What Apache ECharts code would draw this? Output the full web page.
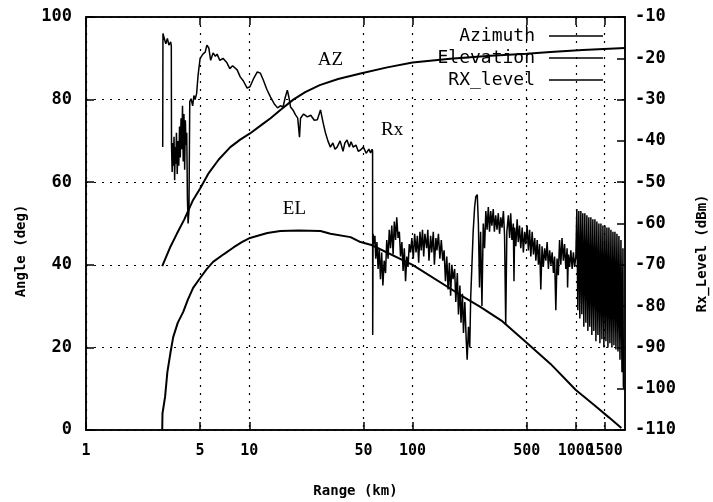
<!DOCTYPE html>
<html>
<head>
<meta charset="utf-8">
<script src="https://cdn.jsdelivr.net/npm/echarts/dist/echarts.min.js"></script>
<style>
  html, body { margin: 0; padding: 0; background: #fff; }
  #chart { width: 713px; height: 502px; }
</style>
</head>
<body>
<div id="chart"></div>
<script>
// range (km) ticks of the log axis
const rangeTicks = [1, 5, 10, 50, 100, 500, 1000, 1500];
const rangeLabels = [1, 5, 10, 50, 100, 500, 1000];
const rangeLabelsExtra = [1500];

// [range km, angle deg]
const azimuth = [
  [2.93, 39.7], [3.1, 42], [3.3, 44.5], [3.6, 47.5], [4.0, 51], [4.5, 55.5], [5.0, 58.5],
  [5.6, 62], [6.5, 65.5], [7.65, 68.5], [8.8, 70.3], [10.1, 71.8], [12, 74], [13.5, 75.5],
  [15.5, 77.5], [18.6, 80], [22, 81.8], [27, 83.5], [35, 85], [48, 86.3], [70, 87.8],
  [100, 89], [170, 89.9], [300, 90.6], [500, 91.1], [700, 91.5], [1100, 92], [2000, 92.5]
];

const elevation = [
  [2.93, 0], [2.94, 4], [3.05, 8], [3.15, 14], [3.3, 19], [3.42, 22.5], [3.65, 26],
  [3.94, 28.6], [4.2, 31.5], [4.53, 34.4], [5.0, 36.8], [5.5, 39], [6.0, 40.7], [7.0, 42.6],
  [8.0, 44.2], [9.0, 45.5], [10.1, 46.5], [12.9, 47.7], [15.5, 48.2], [20, 48.3], [27.3, 48.2],
  [31.4, 47.5], [41.7, 46.7], [48, 45.5], [56, 44.8], [100, 40], [200, 32.5], [260, 29.8],
  [350, 26.5], [500, 21.1], [700, 16], [1000, 9.7], [1300, 6], [1600, 3], [1900, 0.5]
];

// [range km, level dBm]
const rxLevel = [
  [2.95, -41.5], [2.96, -14.0], [3.02, -13.9], [3.08, -16.5], [3.15, -15.2], [3.22, -16.8],
  [3.30, -16.0], [3.33, -17.0], [3.34, -41.0], [3.37, -47.5], [3.40, -40.5], [3.43, -46.0],
  [3.46, -39.0], [3.49, -49.5], [3.52, -41.5], [3.55, -45.5], [3.58, -38.0], [3.62, -48.0],
  [3.66, -40.0], [3.70, -46.0], [3.74, -36.5], [3.78, -44.0], [3.82, -34.5], [3.86, -42.0],
  [3.90, -31.5], [3.94, -45.0], [3.98, -33.5], [4.02, -47.0], [4.06, -35.0], [4.10, -41.0],
  [4.14, -38.0], [4.18, -54.0], [4.22, -60.0], [4.27, -57.0], [4.32, -30.5], [4.40, -29.8],
  [4.50, -31.5], [4.58, -29.0], [4.66, -30.0], [4.76, -28.5], [4.86, -24.0], [5.0, -20.0],
  [5.2, -19.0], [5.37, -18.5], [5.5, -16.8], [5.65, -17.5], [5.8, -20.5], [6.0, -18.7],
  [6.2, -19.5], [6.35, -19.0], [6.6, -20.5], [6.9, -20.0], [7.3, -21.1], [7.6, -22.5],
  [7.9, -21.8], [8.43, -22.8], [8.8, -24.5], [9.2, -25.5], [9.7, -27.2], [10.1, -26.9],
  [10.6, -25.0], [11.2, -23.3], [11.7, -23.6], [12.2, -25.3], [12.8, -27.5], [13.5, -29.4],
  [14.2, -31.0], [14.9, -32.0], [15.5, -31.5], [16.1, -31.8], [16.6, -29.5], [17.1, -27.7],
  [17.5, -29.5], [17.9, -31.8], [18.5, -32.5], [19.2, -33.7], [19.8, -34.5], [20.3, -39.1],
  [20.6, -34.5], [21.5, -33.5], [22.7, -34.2], [23.8, -33.8], [25.0, -35.0], [26.1, -34.9],
  [27.3, -32.5], [28.3, -35.5], [29.3, -38.1], [30.3, -40.0], [31.4, -41.5], [32.5, -40.5],
  [33.5, -42.0], [34.5, -41.5], [36.0, -40.0], [37.5, -42.5], [38.5, -40.5], [39.7, -39.8],
  [41.0, -41.5], [42.0, -40.2], [43.3, -41.5], [45.0, -41.0], [46.5, -42.5], [48.0, -42.2],
  [50.0, -41.5], [52.0, -43.0], [54.0, -42.0], [55.3, -42.9], [56.5, -42.0], [56.9, -42.5],
  [57.0, -87.0], [57.3, -62.5], [58.0, -65.0], [58.8, -63.0], [59.5, -68.5], [60.5, -64.5],
  [61.5, -71.0], [62.5, -66.0], [63.6, -73.5], [64.7, -67.0], [65.8, -75.0], [67.0, -69.0],
  [68.3, -72.0], [69.5, -64.0], [70.8, -68.5], [72.0, -61.5], [73.3, -66.0], [74.6, -60.5],
  [76.0, -67.5], [77.3, -59.5], [78.7, -64.0], [80.0, -58.5], [81.5, -63.5], [83.0, -62.0],
  [84.4, -68.0], [86.0, -64.5], [87.5, -71.5], [89.0, -66.0], [90.6, -74.0], [92.2, -68.0],
  [93.8, -70.5], [95.5, -65.0], [97.2, -67.0], [99.0, -63.5], [101, -68.5], [103, -62.5],
  [105, -67.0], [107, -63.0], [109, -69.5], [111, -62.0], [113, -66.5], [115, -61.5],
  [117, -68.0], [119, -62.5], [122, -66.0], [124, -61.5], [126, -69.0], [129, -63.0],
  [131, -67.0], [134, -62.0], [136, -70.0], [139, -63.5], [141, -66.5], [144, -62.5],
  [147, -68.5], [150, -64.0], [153, -69.0], [156, -66.5], [159, -74.0], [162, -68.0],
  [165, -76.0], [168, -69.5], [171, -77.5], [174, -70.0], [177, -73.5], [181, -71.0],
  [184, -79.0], [188, -72.0], [191, -82.0], [195, -75.0], [198, -84.0], [202, -77.0],
  [205, -86.5], [209, -79.0], [213, -88.0], [216, -93.0], [220, -85.0], [224, -90.0],
  [227, -78.0], [231, -70.0], [235, -62.0], [240, -56.0], [244, -53.5], [249, -53.0],
  [253, -60.0], [257, -75.5], [261, -62.0], [266, -80.0], [271, -60.0], [276, -66.0],
  [281, -57.0], [286, -61.5], [291, -56.0], [296, -62.0], [301, -57.0], [306, -60.5],
  [312, -56.5], [317, -62.0], [323, -58.0], [329, -61.5], [335, -57.5], [341, -62.5],
  [347, -58.5], [353, -61.0], [360, -57.0], [366, -63.0], [372, -84.5], [378, -62.0],
  [386, -58.0], [393, -63.5], [399, -57.5], [406, -64.0], [414, -60.0], [418, -74.0],
  [422, -61.0], [429, -65.5], [437, -59.0], [444, -64.5], [452, -60.5], [460, -66.0],
  [469, -61.0], [477, -67.0], [486, -62.0], [494, -65.0], [503, -60.5], [512, -66.5],
  [521, -61.5], [530, -68.0], [540, -62.0], [550, -67.5], [560, -63.5], [569, -69.0],
  [580, -64.0], [590, -70.0], [600, -65.0], [610, -76.0], [621, -65.5], [632, -70.5],
  [644, -66.0], [655, -69.0], [667, -64.5], [679, -71.0], [691, -66.5], [703, -70.0],
  [716, -67.0], [729, -72.0], [741, -68.0], [754, -81.0], [767, -68.5], [781, -72.5],
  [795, -64.0], [809, -70.0], [823, -63.5], [838, -69.0], [853, -65.0], [868, -71.0],
  [884, -66.0], [890, -75.5], [900, -67.5], [916, -70.5], [932, -66.5], [949, -71.0],
  [966, -67.0], [983, -70.5], [1000, -68.0], [1014, -56.5], [1028, -81.0], [1043, -57.0],
  [1058, -83.0], [1073, -57.0], [1088, -82.0], [1103, -57.5], [1119, -85.0], [1135, -57.5],
  [1152, -84.0], [1168, -58.0], [1185, -86.0], [1201, -58.5], [1218, -85.0], [1236, -58.5],
  [1253, -87.0], [1271, -59.0], [1289, -86.0], [1308, -59.0], [1327, -88.5], [1345, -59.5],
  [1365, -87.0], [1384, -60.0], [1404, -89.0], [1424, -60.0], [1444, -88.0], [1465, -60.5],
  [1485, -90.0], [1507, -60.5], [1528, -88.5], [1550, -61.0], [1572, -90.0], [1594, -61.0],
  [1617, -89.0], [1640, -61.5], [1663, -90.0], [1687, -62.0], [1711, -89.5], [1735, -62.0],
  [1760, -90.5], [1785, -62.5], [1811, -91.0], [1836, -63.0], [1863, -93.0], [1889, -64.0],
  [1916, -96.0], [1943, -66.0], [1955, -99.5], [1971, -100.0]
];

// curve names written next to the curves, [range km, value]
const azNote = [31.4, 89.6];
const elNote = [18.9, 53.5];
const rxNote = [75, -37.4];

const mono = 'DejaVu Sans Mono';
const dotted = { color: '#000', width: 1.2, type: [2, 6] };
const tickFont = { fontFamily: mono, fontWeight: 'bold', color: '#000' };

const chart = echarts.init(document.getElementById('chart'));

function note(text, pos) {
  return {
    symbol: 'circle',
    symbolSize: 1,
    itemStyle: { color: 'rgba(0,0,0,0)' },
    label: {
      show: true, position: 'inside', formatter: text,
      fontFamily: 'Liberation Serif', fontSize: 19, color: '#000'
    },
    data: [{ coord: pos }]
  };
}

function legendRow(name, top) {
  return {
    data: [name], orient: 'vertical', right: 105, top: top, align: 'right',
    icon: 'rect', itemWidth: 54, itemHeight: 1.6, padding: 5,
    selectedMode: false,
    textStyle: { fontFamily: mono, fontSize: 18, color: '#000', padding: [0, 9, 0, 0] },
    itemStyle: { color: '#000' }
  };
}

chart.setOption({
  animation: false,
  backgroundColor: '#fff',
  grid: {
    left: 86, right: 88, top: 17, bottom: 72, outerBoundsMode: 'none',
    show: true, borderColor: '#000', borderWidth: 1.5
  },
  legend: [legendRow('Azimuth', 22), legendRow('Elevation', 44), legendRow('RX_level', 66)],
  xAxis: [{
    type: 'log', logBase: 10, min: 1, max: 2000,
    name: 'Range (km)', nameLocation: 'middle', nameGap: 54,
    nameTextStyle: Object.assign({ fontSize: 14 }, tickFont),
    axisLine: { lineStyle: { color: '#000', width: 1.5 } },
    axisTick: { inside: true, length: 8, customValues: rangeTicks, lineStyle: { color: '#000', width: 1.5 } },
    axisLabel: Object.assign({ customValues: rangeLabels, formatter: v => String(v), margin: 14,
      interval: 0, hideOverlap: false, fontSize: 15 }, tickFont),
    minorTick: { show: false },
    splitLine: { show: true, lineStyle: dotted }
  }, {
    type: 'log', logBase: 10, min: 1, max: 2000, position: 'top',
    axisLine: { lineStyle: { color: '#000', width: 1.5 } },
    axisTick: { inside: true, length: 8, customValues: rangeTicks, lineStyle: { color: '#000', width: 1.5 } },
    axisLabel: { show: false },
    splitLine: { show: false }
  }, {
    // 1500 label sits on top of 1000, as in the source plot
    type: 'log', logBase: 10, min: 1, max: 2000, position: 'bottom',
    axisLine: { show: false },
    axisTick: { show: false },
    axisLabel: Object.assign({ customValues: rangeLabelsExtra, formatter: v => String(v), margin: 14,
      fontSize: 15 }, tickFont),
    splitLine: { show: false }
  }],
  yAxis: [{
    type: 'value', min: 0, max: 100, interval: 20,
    name: 'Angle (deg)', nameLocation: 'middle', nameGap: 58, nameRotate: 90,
    nameTextStyle: Object.assign({ fontSize: 14, padding: [0, 55, 0, 0] }, tickFont),
    axisLine: { show: true, lineStyle: { color: '#000', width: 1.5 } },
    axisTick: { show: true, inside: true, length: 8, lineStyle: { color: '#000', width: 1.5 } },
    axisLabel: Object.assign({ margin: 14, fontSize: 17 }, tickFont),
    splitLine: { show: true, lineStyle: dotted }
  }, {
    type: 'value', min: -110, max: -10, interval: 10, position: 'right',
    name: 'Rx_Level (dBm)', nameLocation: 'middle', nameGap: 70, nameRotate: 90,
    nameTextStyle: Object.assign({ fontSize: 14, padding: [0, 60, 0, 0] }, tickFont),
    axisLine: { show: true, lineStyle: { color: '#000', width: 1.5 } },
    axisTick: { show: true, inside: true, length: 8, lineStyle: { color: '#000', width: 1.5 } },
    axisLabel: Object.assign({ margin: 10, fontSize: 17 }, tickFont),
    splitLine: { show: false }
  }],
  series: [{
    name: 'Azimuth', type: 'line', xAxisIndex: 0, yAxisIndex: 0,
    data: azimuth, showSymbol: false, symbol: 'none', smooth: false,
    lineStyle: { color: '#000', width: 2 }, itemStyle: { color: '#000' },
    markPoint: note('AZ', azNote)
  }, {
    name: 'Elevation', type: 'line', xAxisIndex: 0, yAxisIndex: 0,
    data: elevation, showSymbol: false, symbol: 'none',
    lineStyle: { color: '#000', width: 2 }, itemStyle: { color: '#000' },
    markPoint: note('EL', elNote)
  }, {
    name: 'RX_level', type: 'line', xAxisIndex: 0, yAxisIndex: 1,
    data: rxLevel, showSymbol: false, symbol: 'none',
    lineStyle: { color: '#000', width: 1.5 }, itemStyle: { color: '#000' },
    markPoint: note('Rx', rxNote)
  }]
});
window.addEventListener('resize', () => chart.resize());
</script>
</body>
</html>
